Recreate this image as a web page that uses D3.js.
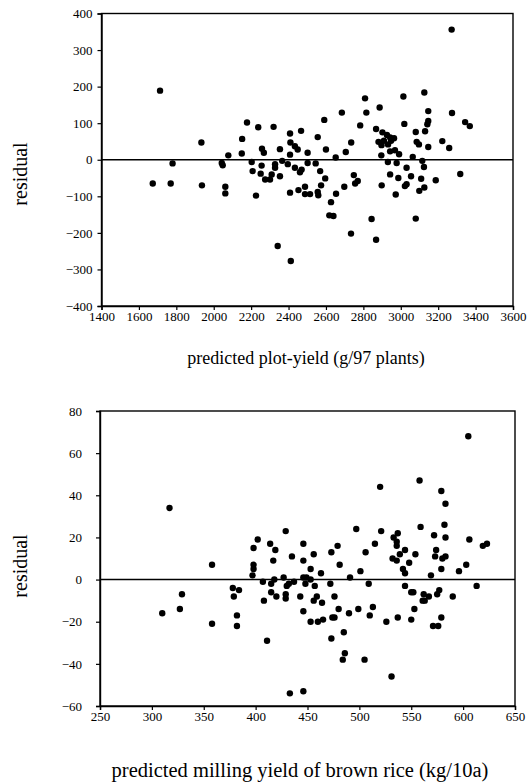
<!DOCTYPE html>
<html><head><meta charset="utf-8">
<script src="https://cdn.jsdelivr.net/npm/d3@7"></script>
<style>
body{margin:0;background:#fff}
svg{display:block}
text{font-family:"Liberation Serif","Times New Roman",serif;fill:#000}
</style>
</head><body>
<svg id="chart" width="531" height="784"></svg>
<script>
// ---- Panel 1: predicted plot-yield (g/97 plants) vs residual ----
const plotYieldPred = [1713,2178,2238,1934,2152,2258,2268,2150,2078,1780,2043,2048,2203,2256,2208,2251,2275,1674,1770,1937,2062,2062,2226,
  2809,2685,2816,2887,2591,2783,2320,2467,2408,2556,2735,2410,2434,2449,2354,2600,2706,2502,2408,2896,2652,2366,2396,2328,2328,2502,2545,2434,2470,2461,2569,2310,2301,2354,2596,2749,2770,2756,2574,2698,2898,2408,2453,2488,2488,2515,2556,2559,2654,2627,2618,2640,2844,2734,2868,2342,2412,
  3272,3126,3014,3147,3274,3147,3142,3344,3369,3019,3130,3080,3085,3097,3222,3147,3259,2943,2969,2991,3064,2931,2978,3115,3124,3031,2943,2987,3055,3109,3187,3318,3031,3022,3126,3099,2973,3080,
  2868,2902,2926,2943,2964,2881,2910,2948,2897,2932];
const plotYieldResid = [189,102,89,47,57,30,19,17,12,-10,-9,-15,-6,-16,-31,-38,-54,-65,-65,-70,-74,-92,-98,
  168,129,129,143,109,94,90,79,72,62,47,47,37,28,29,28,21,19,14,12,6,-3,-12,-12,-22,-9,-10,-22,-27,-34,-31,-40,-54,-45,-51,-42,-58,-65,-70,-74,-70,-90,-83,-74,-94,-94,-88,-97,-93,-116,-152,-154,-162,-202,-219,-236,-277,
  356,184,173,133,128,106,97,103,92,98,78,76,49,42,51,35,32,23,26,15,8,-6,-9,-3,-20,-22,-40,-50,-45,-52,-56,-39,-67,-72,-76,-85,-95,-161,
  84,75,68,61,59,49,52,52,40,42];
const plotXTicks = [1400,1600,1800,2000,2200,2400,2600,2800,3000,3200,3400,3600];
const plotYTicks = [-400,-300,-200,-100,0,100,200,300,400];

// ---- Panel 2: predicted milling yield of brown rice (kg/10a) vs residual ----
const millingPred = [317,402,398,358,398,398,397,407,378,384,379,329,408,310,327,382,358,382,411,
  520,429,497,521,414,419,446,479,515,417,435,446,456,473,506,481,453,463,501,427,418,415,432,437,430,446,449,453,448,457,472,491,509,415,420,429,429,443,459,456,464,476,446,480,490,499,510,513,453,460,465,474,476,526,473,485,486,484,505,531,433,446,
  605,558,579,583,559,582,537,533,536,536,572,583,606,619,623,544,539,532,536,554,548,574,573,583,580,603,596,542,544,569,579,613,544,550,552,562,567,561,563,577,575,590,553,537,550,579,571,576];
const millingResid = [34,19,15,7,7,5,2,-1,-4,-5,-8,-7,-10,-16,-14,-17,-21,-22,-29,
  44,23,24,23,17,14,17,16,17,9,11,9,12,13,13,7,5,3,4,1,0,-2,-2,-1,-3,1,1,0,-2,-3,-2,1,-2,-6,-8,-7,-9,-8,-8,-10,-11,-8,-15,-14,-16,-14,-17,-13,-20,-20,-19,-18,-18,-20,-28,-25,-35,-38,-38,-46,-54,-53,
  68,47,42,36,25,26,22,20,18,16,21,20,19,16,17,14,12,10,9,12,8,14,11,11,10,7,4,5,3,2,5,-3,-3,-6,-6,-7,-8,-10,-10,-5,-7,-8,-14,-18,-19,-18,-22,-22];
const millXTicks = [250,300,350,400,450,500,550,600,650];
const millYTicks = [-60,-40,-20,0,20,40,60,80];

const svg = d3.select("#chart");

function panel(cfg) {
  const x = d3.scaleLinear().domain(cfg.xDomain).range(cfg.xRange);
  const y = d3.scaleLinear().domain(cfg.yDomain).range(cfg.yRange);
  const g = svg.append("g");

  g.append("rect")
    .attr("x", cfg.xRange[0]).attr("y", cfg.yRange[1])
    .attr("width", cfg.xRange[1] - cfg.xRange[0])
    .attr("height", cfg.yRange[0] - cfg.yRange[1])
    .attr("fill", "none").attr("stroke", "#000").attr("stroke-width", 1.4);

  const ax = g.append("g").attr("transform", `translate(0,${cfg.yRange[0]})`)
    .call(d3.axisBottom(x).tickValues(cfg.xTicks).tickSize(4).tickPadding(2).tickFormat(d3.format("d")));
  const ay = g.append("g").attr("transform", `translate(${cfg.xRange[0]},0)`)
    .call(d3.axisLeft(y).tickValues(cfg.yTicks).tickSize(4).tickPadding(cfg.yPad).tickFormat(d3.format("d")));
  [ax, ay].forEach(a => {
    a.select(".domain").attr("stroke", "#000").attr("stroke-width", 1.4);
    a.selectAll(".tick line").attr("stroke", "#000").attr("stroke-width", 1.2);
    a.selectAll("text").attr("font-size", 13).attr("font-family", "Liberation Serif").attr("fill", "#000");
  });

  g.append("line")
    .attr("x1", cfg.xRange[0]).attr("x2", cfg.xRange[1])
    .attr("y1", y(0)).attr("y2", y(0))
    .attr("stroke", "#000").attr("stroke-width", 1.5);

  g.append("g").selectAll("circle")
    .data(cfg.xs.map((v, i) => [v, cfg.ys[i]]))
    .join("circle")
    .attr("cx", d => x(d[0])).attr("cy", d => y(d[1]))
    .attr("r", 3.2).attr("fill", "#000");

  g.append("text")
    .attr("transform", `translate(${cfg.yTitleX},${cfg.yTitleY}) rotate(-90)`)
    .attr("text-anchor", "middle").attr("font-size", 20)
    .text("residual");
  g.append("text")
    .attr("x", cfg.xTitleX).attr("y", cfg.xTitleY)
    .attr("text-anchor", "middle").attr("font-size", cfg.xTitleSize)
    .text(cfg.xTitle);
}

panel({
  xs: plotYieldPred, ys: plotYieldResid,
  xDomain: [1400, 3600], xRange: [101.5, 513],
  yDomain: [-400, 400], yRange: [306, 13.5],
  xTicks: plotXTicks, yTicks: plotYTicks, yPad: 5,
  yTitleX: 27, yTitleY: 174,
  xTitleX: 306, xTitleY: 364, xTitleSize: 18,
  xTitle: "predicted plot-yield (g/97 plants)"
});

panel({
  xs: millingPred, ys: millingResid,
  xDomain: [250, 650], xRange: [100, 515],
  yDomain: [-60, 80], yRange: [706, 411],
  xTicks: millXTicks, yTicks: millYTicks, yPad: 14,
  yTitleX: 27, yTitleY: 566,
  xTitleX: 300, xTitleY: 777, xTitleSize: 20.5,
  xTitle: "predicted milling yield of brown rice (kg/10a)"
});
</script>
</body></html>
